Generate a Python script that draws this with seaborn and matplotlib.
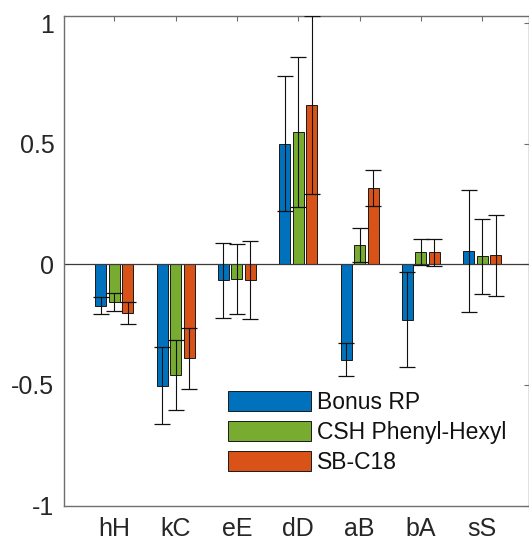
import numpy as np
import pandas as pd
import matplotlib
matplotlib.use("Agg")
import matplotlib.pyplot as plt
import seaborn as sns

categories = ['hH', 'kC', 'eE', 'dD', 'aB', 'bA', 'sS']
series = ['Bonus RP', 'CSH Phenyl-Hexyl', 'SB-C18']
bonus_rp = [-0.172, -0.504, -0.066, 0.501, -0.395, -0.229, 0.056]
csh_phenyl_hexyl = [-0.156, -0.459, -0.062, 0.550, 0.081, 0.050, 0.033]
sb_c18 = [-0.203, -0.390, -0.066, 0.660, 0.317, 0.050, 0.037]
bonus_rp_err = [0.036, 0.160, 0.156, 0.278, 0.068, 0.197, 0.252]
csh_phenyl_hexyl_err = [0.036, 0.146, 0.146, 0.311, 0.070, 0.054, 0.157]
sb_c18_err = [0.045, 0.125, 0.161, 0.369, 0.076, 0.056, 0.169]
colors = ['#0072BD', '#77AC30', '#D95319']

sns.set_theme(style='white')
plt.rcParams['font.family'] = ['Liberation Sans', 'DejaVu Sans']

values = [bonus_rp, csh_phenyl_hexyl, sb_c18]
errors = [bonus_rp_err, csh_phenyl_hexyl_err, sb_c18_err]
df = pd.DataFrame({
    'cat': np.repeat([categories], 3, axis=0).ravel(),
    'series': np.repeat(series, len(categories)),
    'value': np.concatenate(values),
})

fig = plt.figure(figsize=(5.29, 5.44), dpi=100)
ax = fig.add_axes([64 / 529, 1 - 505.5 / 544, 1 - 64 / 529 - 0.5 / 529, (505.5 - 15.7) / 544])

sns.barplot(data=df, x='cat', y='value', hue='series', order=categories,
            hue_order=series, palette=colors, width=0.66, gap=0.18,
            edgecolor='#1a1a1a', linewidth=0.7, errorbar=None, saturation=1,
            ax=ax, zorder=2)

# error bars at the bar centres given by seaborn
for cont, err in zip(ax.containers, errors):
    xs = [p.get_x() + p.get_width() / 2 for p in cont.patches]
    hs = [p.get_height() for p in cont.patches]
    ax.errorbar(xs, hs, yerr=err, fmt='none', ecolor='#111111',
                elinewidth=0.8, capsize=5.6, capthick=0.9, zorder=3)

ax.axhline(0, color='#3a3a3a', lw=0.9, zorder=2.5)
ax.set_xlim(-0.819, 6.754)
ax.set_ylim(-1.0, 1.031)
ax.set_yticks([-1, -0.5, 0, 0.5, 1])
ax.set_yticklabels(['-1', '-0.5', '0', '0.5', '1'])
ax.set_xlabel('')
ax.set_ylabel('')
for s in ax.spines.values():
    s.set_color('#6e6e6e')
    s.set_linewidth(1.0)
    s.set_visible(True)
ax.tick_params(direction='in', length=3.5, width=0.8, color='#6e6e6e',
               top=True, right=True, labelsize=18, labelcolor='#262626')
ax.tick_params(axis='x', pad=8)
ax.tick_params(axis='y', pad=7)

handles, labels = ax.get_legend_handles_labels()
leg = ax.legend(handles, labels, loc='upper left',
                bbox_to_anchor=(228 / 529, 1 - 391 / 544),
                bbox_transform=fig.transFigure, frameon=False,
                fontsize=16.5, handlelength=3.6, handleheight=0.95,
                handletextpad=0.3, labelspacing=0.3, borderpad=0,
                borderaxespad=0)
for t in leg.get_texts():
    t.set_color('#111111')

fig.savefig('out.png', dpi=100)
